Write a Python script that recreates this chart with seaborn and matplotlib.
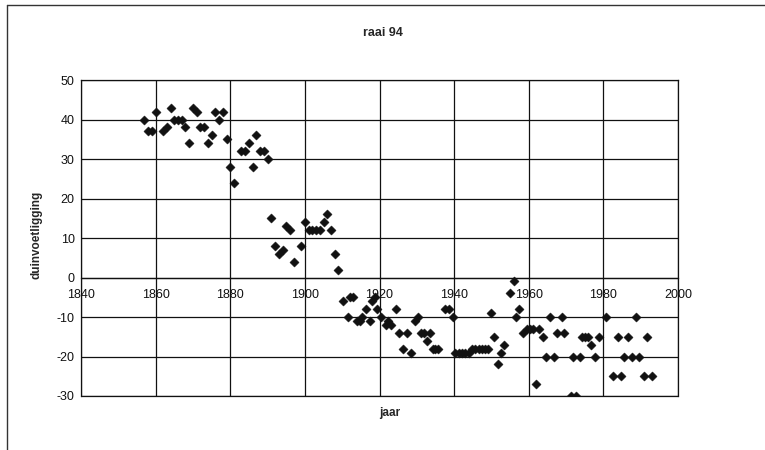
"""
Scatter chart "raai 94": dune foot position per year.
"""

import matplotlib
matplotlib.use("Agg")
import matplotlib.pyplot as plt
from matplotlib.lines import Line2D
import pandas as pd
import seaborn as sns

# ── Data ────────────────────────────────────────────────────────────────────
jaar = [
    1857, 1858, 1859, 1860, 1862, 1863, 1864, 1865, 1866, 1867,
    1868, 1869, 1870, 1871, 1872, 1873, 1874, 1875, 1876, 1877,
    1878, 1879, 1880, 1881, 1883, 1884, 1885, 1886, 1887, 1888,
    1889, 1890, 1891, 1892, 1893, 1894, 1895, 1896, 1897, 1899,
    1900, 1901, 1902, 1903, 1904, 1905, 1906, 1907, 1908, 1909,
    1910.2, 1911.5, 1912.1, 1913, 1914, 1914.7, 1915.4, 1916.3, 1917.4, 1918.1,
    1918.7, 1919.4, 1920.4, 1921.7, 1922.4, 1923.2, 1924.4, 1925.2, 1926.4, 1927.3,
    1928.4, 1929.6, 1930.2, 1931, 1932, 1932.6, 1933.4, 1934.2, 1935, 1935.8,
    1937.6, 1938.5, 1939.8, 1940.3, 1941.2, 1942.1, 1943, 1943.9, 1944.8, 1945.7,
    1946.6, 1947.5, 1948.3, 1949.1, 1950, 1950.8, 1951.7, 1952.6, 1953.4, 1954.9,
    1956, 1956.7, 1957.5, 1958.5, 1959.4, 1960.3, 1961.2, 1961.9, 1962.8, 1963.7,
    1964.5, 1965.8, 1966.8, 1967.7, 1968.8, 1969.5, 1971.3, 1971.8, 1972.6, 1973.8,
    1974.4, 1975.2, 1976, 1976.8, 1977.7, 1978.8, 1980.6, 1982.7, 1983.8, 1984.7,
    1985.5, 1986.5, 1987.8, 1988.8, 1989.6, 1990.8, 1991.7, 1993,
]
duinvoet = [
    40, 37, 37, 42, 37, 38, 43, 40, 40, 40,
    38, 34, 43, 42, 38, 38, 34, 36, 42, 40,
    42, 35, 28, 24, 32, 32, 34, 28, 36, 32,
    32, 30, 15, 8, 6, 7, 13, 12, 4, 8,
    14, 12, 12, 12, 12, 14, 16, 12, 6, 2,
    -6, -10, -5, -5, -11, -11, -10, -8, -11, -6,
    -5, -8, -10, -12, -11, -12, -8, -14, -18, -14,
    -19, -11, -10, -14, -14, -16, -14, -18, -18, -18,
    -8, -8, -10, -19, -19, -19, -19, -19, -18, -18,
    -18, -18, -18, -18, -9, -15, -22, -19, -17, -4,
    -1, -10, -8, -14, -13, -13, -13, -27, -13, -15,
    -20, -10, -20, -14, -10, -14, -30, -20, -30, -20,
    -15, -15, -15, -17, -20, -15, -10, -25, -15, -25,
    -20, -15, -20, -10, -20, -25, -15, -25,
]

X_TICKS = list(range(1840, 2001, 20))
Y_TICKS = list(range(-30, 51, 10))

df = pd.DataFrame({"jaar": jaar, "duinvoetligging": duinvoet})

# ── Plot ────────────────────────────────────────────────────────────────────
sns.set_style("white")
plt.rcParams["font.family"] = ["Liberation Sans", "DejaVu Sans"]
plt.rcParams["axes.unicode_minus"] = False

fig = plt.figure(figsize=(7.65, 4.5), dpi=100)
ax = fig.add_axes([0.1059, 0.12, 0.7804, 0.7022])

sns.scatterplot(data=df, x="jaar", y="duinvoetligging", marker="D", s=22,
                color="#111111", edgecolor="#111111", linewidth=0.3,
                ax=ax, zorder=3)

ax.set_xlim(1840, 2000)
ax.set_ylim(-30, 50)
ax.set_xticks(X_TICKS)
ax.set_yticks(Y_TICKS)
ax.grid(True, color="#111111", linewidth=0.9)
ax.set_axisbelow(True)
# bottom edge of the plot area (the x spine is moved up to 0)
ax.axhline(-30, color="#111111", linewidth=0.9, clip_on=False, zorder=1)

# Excel style: category axis crosses at y = 0, labels sit under it
ax.spines["bottom"].set_position(("data", 0))
for side in ("left", "right", "top", "bottom"):
    ax.spines[side].set_color("#111111")
    ax.spines[side].set_linewidth(0.9)
ax.tick_params(axis="both", direction="inout", length=5, width=0.9,
               colors="#111111", labelsize=9, pad=2)
ax.tick_params(axis="x", pad=6)
ax.set_xlabel("")
ax.set_ylabel("")

fig.text(0.5, 0.927, "raai 94", ha="center", va="center",
         fontsize=9, fontweight="bold")
fig.text(0.51, 0.082, "jaar", ha="center", va="center",
         fontsize=8.5, fontweight="bold")
fig.text(0.048, 0.478, "duinvoetligging", ha="center", va="center",
         rotation=90, fontsize=8.5, fontweight="bold")

# chart frame edges visible in the scan
fig.add_artist(Line2D([0.009, 0.009], [0.0, 0.99], transform=fig.transFigure,
                      color="#333333", linewidth=1.0))
fig.add_artist(Line2D([0.009, 1.0], [0.99, 0.99], transform=fig.transFigure,
                      color="#333333", linewidth=1.0))

fig.savefig("out.png", dpi=100)
